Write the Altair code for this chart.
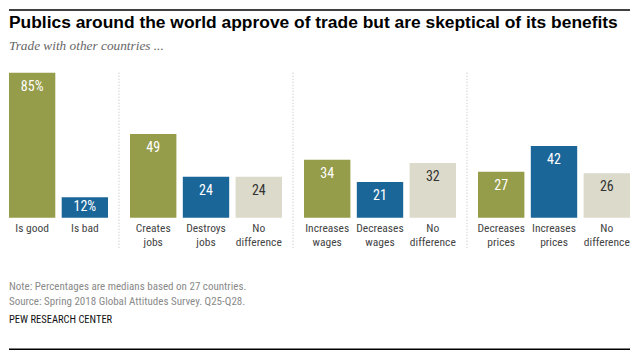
import altair as alt
import pandas as pd

# ---- data ----
groups = ["g1", "g1", "g2", "g2", "g2", "g3", "g3", "g3", "g4", "g4", "g4"]
labels = ["Is good", "Is bad",
          "Creates\njobs", "Destroys\njobs", "No\ndifference",
          "Increases\nwages", "Decreases\nwages", "No\ndifference",
          "Decreases\nprices", "Increases\nprices", "No\ndifference"]
values = [85, 12, 49, 24, 24, 34, 21, 32, 27, 42, 26]
kinds = ["pos", "neg", "pos", "neg", "neu", "pos", "neg", "neu", "pos", "neg", "neu"]
suffix = ["%", "%", "", "", "", "", "", "", "", "", ""]

title_text = "Publics around the world approve of trade but are skeptical of its benefits"
subtitle_text = "Trade with other countries ..."
note_text = "Note: Percentages are medians based on 27 countries."
source_text = "Source: Spring 2018 Global Attitudes Survey. Q25-Q28."
credit_text = "PEW RESEARCH CENTER"

df = pd.DataFrame({
    "group": groups,
    "label": labels,
    "value": values,
    "kind": kinds,
    "txt": [f"{v}{s}" for v, s in zip(values, suffix)],
})
df["id"] = [f"{g}_{i:02d}" for g, i in zip(groups, range(len(values)))]

SANS = "Liberation Sans Narrow, Roboto Condensed, Arial Narrow, Roboto, sans-serif"
TITLE_FONT = "Liberation Sans, Arial, sans-serif"
SERIF = "Liberation Serif, Georgia, serif"

color_scale = alt.Scale(domain=["pos", "neg", "neu"], range=["#959c4a", "#1b6699", "#dcdaca"])

TOP = 64.7          # header band above the bars
PLOT_H = 145        # bar area
BASE = TOP + PLOT_H # baseline of the bars inside the view
VIEW_H = 342
YMAX = 85
PX_PER_UNIT = PLOT_H / YMAX
INSET = 14 / PX_PER_UNIT
SPACING = 22
WIDTHS = {"g1": 99, "g2": 152, "g3": 152, "g4": 152}
FULL_W = sum(WIDTHS.values()) + 3 * SPACING

one = pd.DataFrame({"a": [0]})


def panel(g, first):
    d = df[df.group == g]
    ids = list(d["id"])
    width = WIDTHS[g]
    base = alt.Chart(d).encode(
        x=alt.X("id:N", sort=ids, axis=None,
                scale=alt.Scale(paddingInner=0.1215, paddingOuter=0)),
    )
    y_scale = alt.Scale(domain=[0, YMAX], nice=False, zero=True, range=[BASE, TOP])
    bars = base.mark_bar().encode(
        y=alt.Y("value:Q", scale=y_scale, axis=None),
        color=alt.Color("kind:N", scale=color_scale, legend=None),
    )
    vals = base.mark_text(fontSize=14, font=SANS, fontWeight="normal",
                          baseline="middle").transform_calculate(
        ypos=f"max(datum.value - {INSET}, datum.value / 2)"
    ).encode(
        y=alt.Y("ypos:Q", scale=y_scale, axis=None),
        text="txt:N",
        color=alt.condition("datum.kind == 'neu'", alt.value("#333333"), alt.value("#ffffff")),
    )
    cats = base.mark_text(fontSize=11.5, font=SANS, baseline="top", dy=5,
                          lineBreak="\n", lineHeight=14, color="#444444").encode(
        y=alt.value(BASE),
        text="label:N",
    )
    layers = [bars, vals, cats]
    if not first:
        rule = alt.Chart(one).mark_rule(color="#bdbdbd", strokeDash=[1, 2], strokeWidth=1).encode(
            x=alt.value(-SPACING / 2), y=alt.value(TOP), y2=alt.value(TOP + 175)
        )
        layers.append(rule)
    else:
        def txt(y, text, **kw):
            return alt.Chart(one).mark_text(align="left", **kw).encode(
                x=alt.value(0), y=alt.value(y), text=alt.value(text))
        layers += [
            alt.Chart(one).mark_rule(color="#000000", strokeWidth=1.5).encode(
                x=alt.value(0), x2=alt.value(FULL_W), y=alt.value(2)),
            txt(TOP - 45, title_text, baseline="alphabetic", font=TITLE_FONT, fontWeight="bold",
                fontSize=17.4, color="#000000"),
            txt(TOP - 23, subtitle_text, baseline="alphabetic", font=SERIF, fontStyle="italic",
                fontSize=13.3, color="#666666"),
            txt(BASE + 69, note_text, baseline="middle", font=SANS, fontSize=11, color="#8a8a8a"),
            txt(BASE + 84, source_text, baseline="middle", font=SANS, fontSize=11, color="#8a8a8a"),
            txt(BASE + 102, credit_text, baseline="middle", font=SANS, fontSize=10.5, color="#111111"),
            alt.Chart(one).mark_rule(color="#000000", strokeWidth=1.4).encode(
                x=alt.value(0), x2=alt.value(FULL_W), y=alt.value(VIEW_H - 0.7)),
        ]
    return alt.layer(*layers).properties(width=width, height=VIEW_H)


chart = alt.hconcat(
    panel("g1", True),
    panel("g2", False),
    panel("g3", False),
    panel("g4", False),
    spacing=SPACING,
    bounds="flush",
).resolve_scale(x="independent").properties(
    padding=0, background="#ffffff"
).configure_view(strokeWidth=0, stroke="transparent")

chart.save("out.html", embed_options={"renderer": "svg", "actions": False})
